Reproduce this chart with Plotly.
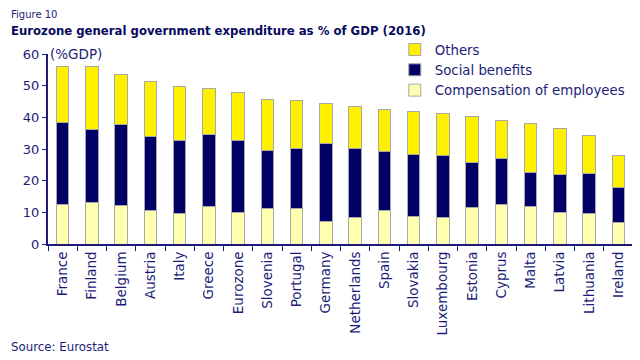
import plotly.graph_objects as go

countries = ["France", "Finland", "Belgium", "Austria", "Italy", "Greece", "Eurozone",
             "Slovenia", "Portugal", "Germany", "Netherlands", "Spain", "Slovakia",
             "Luxembourg", "Estonia", "Cyprus", "Malta", "Latvia", "Lithuania", "Ireland"]
totals = [56.2, 56.2, 53.4, 51.3, 49.7, 49.2, 47.9, 45.6, 45.2, 44.4, 43.5, 42.4, 41.7,
          41.3, 40.4, 39.0, 38.2, 36.4, 34.2, 28.0]
social_top = [38.5, 36.1, 37.6, 34.1, 32.6, 34.5, 32.8, 29.5, 30.2, 31.6, 30.3, 29.2, 28.3,
              27.9, 25.6, 26.9, 22.6, 21.8, 22.4, 17.9]
compensation = [12.4, 13.2, 12.1, 10.5, 9.6, 12.0, 9.8, 11.2, 11.1, 7.1, 8.4, 10.5, 8.8,
                8.3, 11.6, 12.4, 11.8, 9.9, 9.6, 6.9]
social = [round(s - c, 1) for s, c in zip(social_top, compensation)]
others = [round(t - s, 1) for t, s in zip(totals, social_top)]

navy = "#1c1c78"
font = "DejaVu Sans"
outline = dict(color="#a8a8a8", width=1)

fig = go.Figure()
fig.add_bar(x=countries, y=compensation, name="Compensation of employees",
            legendgroup="c", marker=dict(color="#ffffb0", line=outline))
fig.add_bar(x=countries, y=social, name="Social benefits",
            legendgroup="s", marker=dict(color="#000066", line=outline))
fig.add_bar(x=countries, y=others, name="Others",
            legendgroup="o", marker=dict(color="#fff000", line=outline))

fig.update_layout(
    width=632, height=352, barmode="stack", bargap=0.58,
    plot_bgcolor="white", paper_bgcolor="white",
    margin=dict(l=40, r=7, t=46, b=116, autoexpand=False),
    font=dict(family=font, color=navy, size=12),
    showlegend=True,
    legend=dict(traceorder="reversed", xref="container", yref="container",
                x=0.612, y=0.925, xanchor="left", yanchor="top",
                font=dict(size=13.3, color=navy), bgcolor="rgba(0,0,0,0)",
                itemwidth=30, tracegroupgap=5),
    xaxis=dict(type="category", tickangle=-90, ticks="outside", tickson="boundaries",
               ticklen=5, tickcolor=navy, showline=True, linecolor=navy, linewidth=2,
               tickfont=dict(size=13.5, color=navy), showgrid=False, automargin=False),
    yaxis=dict(range=[0, 60], dtick=10, ticks="outside", ticklen=4, tickcolor=navy,
               showline=True, linecolor=navy, linewidth=2, showgrid=False, zeroline=False,
               tickfont=dict(size=13, color=navy), automargin=False),
)
fig.add_annotation(text="Figure 10", xref="paper", yref="paper", x=-0.067, y=1.21,
                   xanchor="left", yanchor="middle", showarrow=False,
                   font=dict(size=10, color=navy))
fig.add_annotation(text="<b>Eurozone general government expenditure as % of GDP (2016)</b>",
                   xref="paper", yref="paper", x=-0.067, y=1.12, xanchor="left",
                   yanchor="middle", showarrow=False, font=dict(size=11.7, color="#0a0a5e"))
fig.add_annotation(text="(%GDP)", xref="paper", yref="y", x=0.0, y=60,
                   xanchor="left", yanchor="middle", showarrow=False,
                   font=dict(size=13.5, color=navy))
fig.add_annotation(text="Source: Eurostat", xref="paper", yref="paper", x=-0.067, y=-0.542,
                   xanchor="left", yanchor="middle", showarrow=False,
                   font=dict(size=11.8, color=navy))

fig.write_html("out.html")
